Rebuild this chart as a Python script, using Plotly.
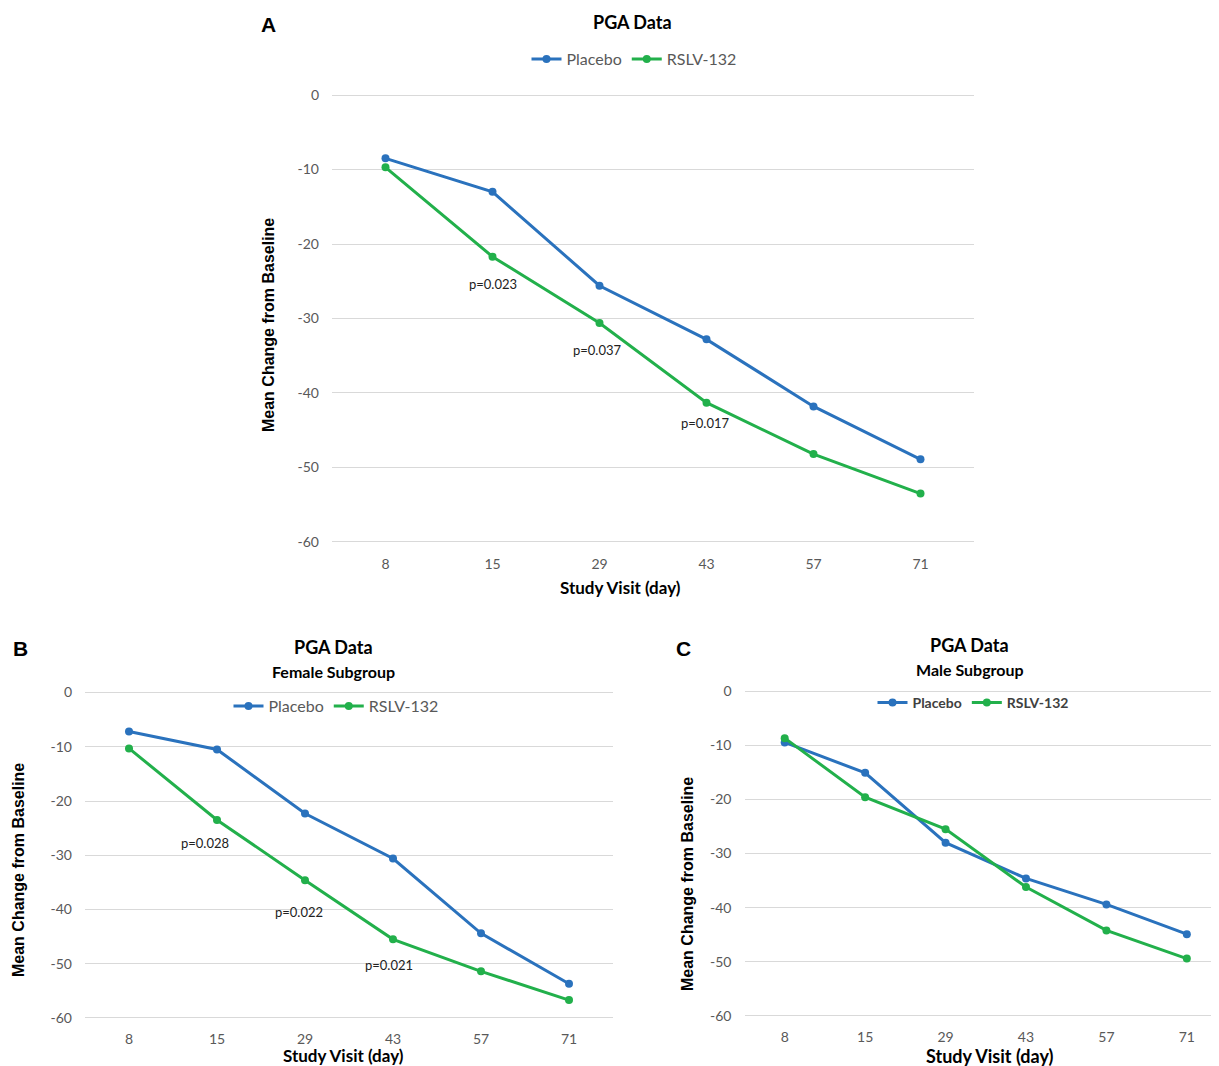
import plotly.graph_objects as go

# Page is rendered with the default 8px body margin, so the figure is sized to fit.
PAGE_W, PAGE_H = 1219, 1066
OFF = 8
W, H = PAGE_W - OFF, PAGE_H - OFF

visits = ["8", "15", "29", "43", "57", "71"]

placebo_all = [-8.5, -13.0, -25.6, -32.8, -41.8, -48.9]
rslv_all = [-9.7, -21.7, -30.6, -41.3, -48.2, -53.5]

placebo_female = [-7.2, -10.5, -22.3, -30.6, -44.4, -53.7]
rslv_female = [-10.3, -23.5, -34.6, -45.5, -51.4, -56.7]

placebo_male = [-9.5, -15.1, -28.0, -34.6, -39.4, -44.9]
rslv_male = [-8.7, -19.6, -25.5, -36.2, -44.2, -49.4]

y_tickvals = [0, -10, -20, -30, -40, -50, -60]
y_ticktext = ["0", "-10", "-20", "-30", "-40", "-50", "-60"]

pvals_all = ["p=0.023", "p=0.037", "p=0.017"]
pvals_female = ["p=0.028", "p=0.022", "p=0.021"]
pval_visits = ["15", "29", "43"]

BLUE = "#2a72bd"
GREEN = "#22b04b"
GRID = "#d9d9d9"
TICK = "#595959"
FONT = "Lato"


def px(x):
    return (x - OFF) / W


def py(y):
    return 1 - (y - OFF) / H


fig = go.Figure()

panels = [
    ("x", "y", placebo_all, rslv_all, "legend"),
    ("x2", "y2", placebo_female, rslv_female, "legend2"),
    ("x3", "y3", placebo_male, rslv_male, "legend3"),
]
for xa, ya, pl, rs, lg in panels:
    fig.add_trace(go.Scatter(x=visits, y=pl, name="Placebo", mode="lines+markers",
                             line=dict(color=BLUE, width=3), marker=dict(size=8, color=BLUE),
                             xaxis=xa, yaxis=ya, legend=lg))
    fig.add_trace(go.Scatter(x=visits, y=rs, name="RSLV-132", mode="lines+markers",
                             line=dict(color=GREEN, width=3), marker=dict(size=8, color=GREEN),
                             xaxis=xa, yaxis=ya, legend=lg))


def xax(d, rng, anchor, standoff):
    return dict(domain=d, type="category", range=rng, showgrid=False, showline=False,
                ticks="", zeroline=False, automargin=False, anchor=anchor,
                ticklabelstandoff=standoff,
                tickfont=dict(family=FONT, size=14, color=TICK), fixedrange=True)


def yax(d, anchor):
    return dict(domain=d, range=[-60.5, 0.5], tickvals=y_tickvals, ticktext=y_ticktext,
                showgrid=True, gridcolor=GRID,
                gridwidth=1, zeroline=True, zerolinecolor=GRID, zerolinewidth=1,
                showline=False, ticks="", anchor=anchor, automargin=False,
                tickfont=dict(family=FONT, size=14, color=TICK), ticklabelstandoff=12,
                fixedrange=True)


# Panel A geometry (page pixels)
ax_l, ax_r = 332, 974
ay_t, ay_b = 91.3, 545.7
# Panel B
bx_l, bx_r = 85, 613
by_t, by_b = 689.8, 1020.7
# Panel C
cx_l, cx_r = 744.5, 1219
cy_t, cy_b = 688.3, 1018.7

fig.update_layout(
    width=W, height=H,
    margin=dict(l=0, r=0, t=0, b=0, autoexpand=False),
    paper_bgcolor="white", plot_bgcolor="white",
    font=dict(family=FONT, color=TICK),
    xaxis=xax([px(ax_l), px(ax_r)], [-0.5, 5.5], "y", 8),
    yaxis=yax([py(ay_b), py(ay_t)], "x"),
    xaxis2=xax([px(bx_l), px(bx_r)], [-0.5, 5.5], "y2", 8),
    yaxis2=yax([py(by_b), py(by_t)], "x2"),
    xaxis3=xax([px(cx_l), min(1.0, px(cx_r))], [-0.5, 5.4], "y3", 8),
    yaxis3=yax([py(cy_b), py(cy_t)], "x3"),
    legend=dict(orientation="h", x=px(634), y=py(59), xanchor="center", yanchor="middle",
                font=dict(family=FONT, size=16, color=TICK), bgcolor="rgba(0,0,0,0)",
                itemwidth=30),
    legend2=dict(orientation="h", x=px(336), y=py(706), xanchor="center", yanchor="middle",
                 font=dict(family=FONT, size=16, color=TICK), bgcolor="rgba(0,0,0,0)",
                 itemwidth=30),
    legend3=dict(orientation="h", x=px(973), y=py(703), xanchor="center", yanchor="middle",
                 font=dict(family=FONT, size=14, color="#404040", weight="bold"),
                 bgcolor="rgba(0,0,0,0)", itemwidth=30),
    showlegend=True,
)

ann = []


def txt(x, y, s, size, bold=True, color="black", family=FONT, angle=0):
    ann.append(dict(x=px(x), y=py(y), xref="paper", yref="paper", text=s, showarrow=False,
                    xanchor="center", yanchor="middle", textangle=angle,
                    font=dict(family=family, size=size, color=color,
                              weight="bold" if bold else "normal")))


# Panel labels
txt(268, 24, "A", 21, family="Liberation Sans")
txt(20, 648, "B", 21, family="Liberation Sans")
txt(683, 648, "C", 21, family="Liberation Sans")
# Titles
txt(632, 22, "PGA Data", 18)
txt(333, 647, "PGA Data", 18)
txt(333, 671, "Female Subgroup", 16)
txt(970, 645, "PGA Data", 18)
txt(970, 669, "Male Subgroup", 16)
# Axis titles
txt(620, 587, "Study Visit (day)", 17)
txt(343, 1055, "Study Visit (day)", 17)
txt(990, 1056, "Study Visit (day)", 18)
txt(268, 325, "Mean Change from Baseline", 16, family="Liberation Sans", angle=-90)
txt(18, 870, "Mean Change from Baseline", 16, family="Liberation Sans", angle=-90)
txt(687, 884, "Mean Change from Baseline", 16, family="Liberation Sans", angle=-90)

# p-value annotations anchored to RSLV points (category index on x)
shifts_all = [(0, -27), (-2, -27), (-1, -20)]
for v, t, (dx, dy) in zip(pval_visits, pvals_all, shifts_all):
    i = visits.index(v)
    ann.append(dict(x=i, y=rslv_all[i], xref="x", yref="y", text=t, showarrow=False,
                    xshift=dx, yshift=dy, font=dict(family=FONT, size=13, color="#222")))
shifts_f = [(-12, -23), (-6, -32), (-4, -26)]
for v, t, (dx, dy) in zip(pval_visits, pvals_female, shifts_f):
    i = visits.index(v)
    ann.append(dict(x=i, y=rslv_female[i], xref="x2", yref="y2", text=t, showarrow=False,
                    xshift=dx, yshift=dy, font=dict(family=FONT, size=13, color="#222")))

fig.update_layout(annotations=ann)

fig.write_html("out.html")
